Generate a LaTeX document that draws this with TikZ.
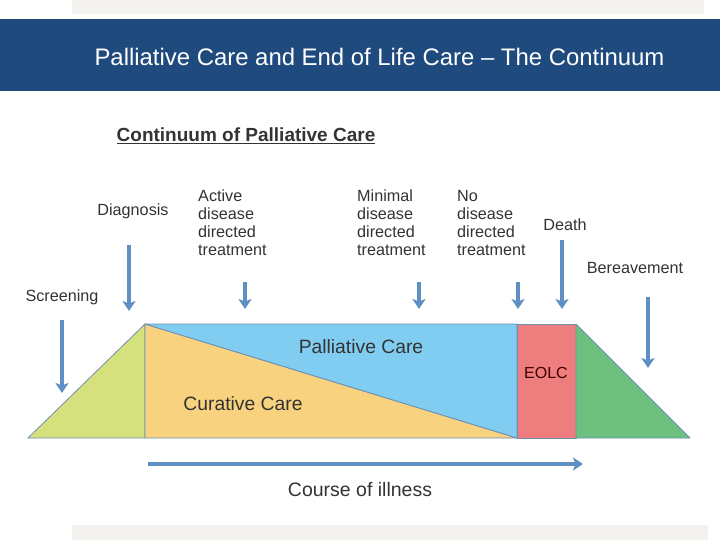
\documentclass[tikz,border=0pt]{standalone}
\usepackage{fontspec}
\setmainfont{Liberation Sans}
\usetikzlibrary{arrows.meta}
\definecolor{bandblue}{HTML}{1F4A7E}
\definecolor{lightband}{HTML}{F3F2EE}
\definecolor{arrowblue}{HTML}{5F8FC4}
\definecolor{edgeblue}{HTML}{6D8FB3}
\definecolor{greenyellow}{HTML}{D5E17C}
\definecolor{curative}{HTML}{F8D27E}
\definecolor{palliative}{HTML}{80CDF1}
\definecolor{eolc}{HTML}{EE7E7D}
\definecolor{bereave}{HTML}{6DC07D}
\definecolor{txt}{HTML}{333333}
\tikzset{
  lbl/.style={inner sep=0pt, text=txt, font=\fontsize{16.2}{18}\selectfont},
  mlbl/.style={lbl, align=left, anchor=west},
  evarrow/.style={draw=arrowblue, line width=3.6pt, -{Stealth[width=13pt,length=10pt,inset=2.5pt]}},
  region/.style={draw=edgeblue, line width=0.8pt, line join=round},
  areatext/.style={inner sep=0pt, text=txt, font=\fontsize{19.3}{22}\selectfont}
}
\begin{document}
\begin{tikzpicture}[x=1pt,y=-1pt]
\useasboundingbox (0,0) rectangle (720,540);
\fill[white] (0,0) rectangle (720,540);
% bands
\fill[lightband] (72,0) rectangle (704,14);
\fill[lightband] (72,525) rectangle (708,540);
\fill[bandblue] (0,19) rectangle (720,91);
\node[inner sep=0pt, text=white, font=\fontsize{23.9}{26}\selectfont] (title) at (379.5,57) {Palliative Care and End of Life Care -- The Continuum};
% heading
\node[inner sep=0pt, text=txt, font=\bfseries\fontsize{19}{22}\selectfont] (head) at (246,136) {\underline{Continuum of Palliative Care}};
% regions
\filldraw[region, fill=greenyellow] (28,438) -- (145,324) -- (145,438) -- cycle;
\filldraw[region, fill=curative] (145,324) -- (517,438) -- (145,438) -- cycle;
\filldraw[region, fill=palliative] (145,324) -- (517,324) -- (517,438) -- cycle;
\filldraw[region, fill=eolc] (517,324) rectangle (576,438);
\filldraw[region, fill=bereave] (576,324) -- (690,438) -- (576,438) -- cycle;
\node[areatext] (pc) at (361,347) {Palliative Care};
\node[areatext] (cc) at (243,404) {Curative Care};
\node[inner sep=0pt, text=black!75!red, font=\fontsize{16}{18}\selectfont] (eo) at (546,373) {EOLC};
% labels
\node[lbl] (scr) at (62,297) {Screening};
\node[lbl] (dia) at (133,211) {Diagnosis};
\node[mlbl] (act) at (198,223) {Active\\disease\\directed\\treatment};
\node[mlbl] (min) at (357,223) {Minimal\\disease\\directed\\treatment};
\node[mlbl] (nod) at (457,223) {No\\disease\\directed\\treatment};
\node[lbl] (dea) at (565,225) {Death};
\node[lbl] (ber) at (635,268) {Bereavement};
\node[inner sep=0pt, text=txt, font=\fontsize{19.5}{22}\selectfont] (coi) at (360,490) {Course of illness};
% arrow coordinates
\coordinate (s1) at (62,320);   \coordinate (e1) at (62,393);
\coordinate (s2) at (129,245);  \coordinate (e2) at (129,311);
\coordinate (s3) at (245,282);  \coordinate (e3) at (245,309);
\coordinate (s4) at (419,282);  \coordinate (e4) at (419,309);
\coordinate (s5) at (518,282);  \coordinate (e5) at (518,309);
\coordinate (s6) at (562,240);  \coordinate (e6) at (562,309);
\coordinate (s7) at (648,297);  \coordinate (e7) at (648,368);
\coordinate (s8) at (148,464);  \coordinate (e8) at (583,464);
\draw[evarrow] (s1) -- (e1);
\draw[evarrow] (s2) -- (e2);
\draw[evarrow] (s3) -- (e3);
\draw[evarrow] (s4) -- (e4);
\draw[evarrow] (s5) -- (e5);
\draw[evarrow] (s6) -- (e6);
\draw[evarrow] (s7) -- (e7);
\draw[evarrow] (s8) -- (e8);
\end{tikzpicture}
\end{document}
